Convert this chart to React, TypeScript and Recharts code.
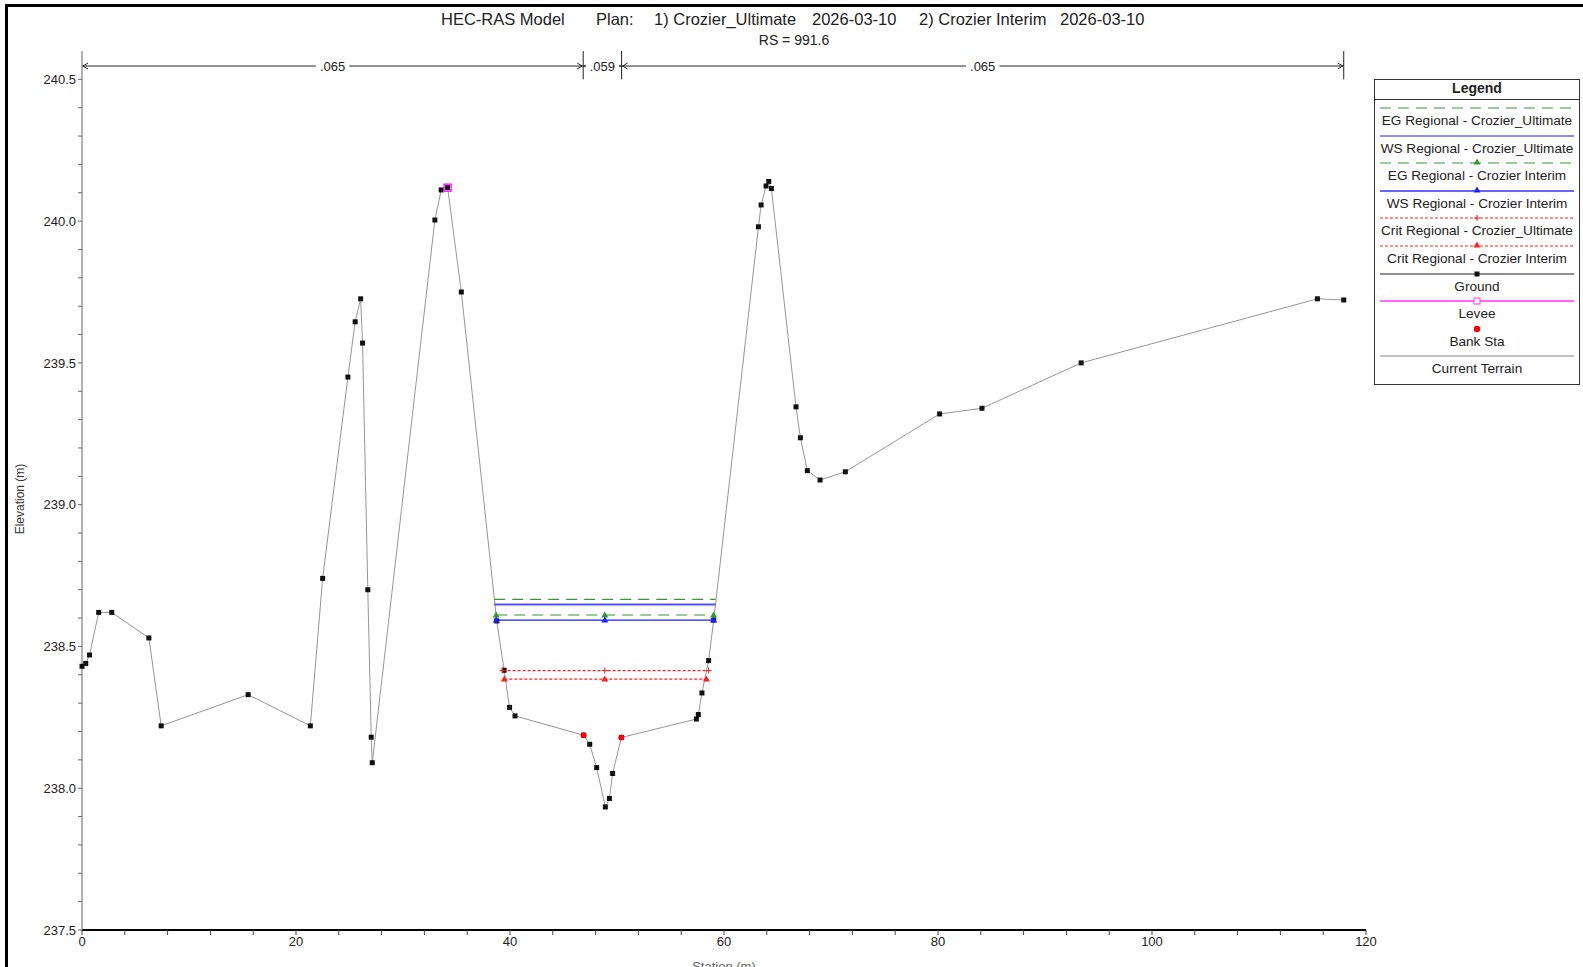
import React from "react";
import {
  ComposedChart,
  Line,
  Scatter,
  XAxis,
  YAxis,
  ReferenceLine,
  ReferenceDot,
} from "recharts";

const FONT = "'Liberation Sans', Arial, sans-serif";

// ground profile (station m, elevation m)
const ground = [
  { x: 0, y: 238.43 },
  { x: 0.35, y: 238.44 },
  { x: 0.7, y: 238.47 },
  { x: 1.56, y: 238.62 },
  { x: 2.78, y: 238.62 },
  { x: 6.25, y: 238.53 },
  { x: 7.4, y: 238.22 },
  { x: 15.53, y: 238.33 },
  { x: 21.34, y: 238.22 },
  { x: 22.49, y: 238.74 },
  { x: 24.85, y: 239.45 },
  { x: 25.53, y: 239.645 },
  { x: 26.04, y: 239.726 },
  { x: 26.22, y: 239.57 },
  { x: 26.71, y: 238.7 },
  { x: 27.03, y: 238.18 },
  { x: 27.13, y: 238.09 },
  { x: 32.98, y: 240.004 },
  { x: 33.57, y: 240.11 },
  { x: 34.17, y: 240.118 },
  { x: 35.45, y: 239.75 },
  { x: 38.76, y: 238.59 },
  { x: 39.45, y: 238.416 },
  { x: 39.96, y: 238.285 },
  { x: 40.47, y: 238.255 },
  { x: 46.88, y: 238.187 },
  { x: 47.45, y: 238.155 },
  { x: 48.1, y: 238.073 },
  { x: 48.91, y: 237.934 },
  { x: 49.29, y: 237.964 },
  { x: 49.59, y: 238.052 },
  { x: 50.41, y: 238.179 },
  { x: 57.42, y: 238.244 },
  { x: 57.6, y: 238.26 },
  { x: 57.94, y: 238.336 },
  { x: 58.56, y: 238.45 },
  { x: 59.04, y: 238.593 },
  { x: 63.22, y: 239.98 },
  { x: 63.47, y: 240.057 },
  { x: 63.93, y: 240.124 },
  { x: 64.18, y: 240.14 },
  { x: 64.43, y: 240.115 },
  { x: 66.73, y: 239.345 },
  { x: 67.14, y: 239.236 },
  { x: 67.79, y: 239.12 },
  { x: 68.98, y: 239.087 },
  { x: 71.34, y: 239.116 },
  { x: 80.15, y: 239.32 },
  { x: 84.11, y: 239.34 },
  { x: 93.38, y: 239.5 },
  { x: 115.46, y: 239.726 },
  { x: 117.92, y: 239.722 },
];

const egUltimate = [
  { x: 38.52, y: 238.666 },
  { x: 59.21, y: 238.666 },
];
const wsUltimate = [
  { x: 38.52, y: 238.648 },
  { x: 59.21, y: 238.648 },
];
const egInterim = [
  { x: 38.71, y: 238.611 },
  { x: 48.86, y: 238.611 },
  { x: 59.02, y: 238.611 },
];
const wsInterim = [
  { x: 38.71, y: 238.593 },
  { x: 48.86, y: 238.593 },
  { x: 59.02, y: 238.593 },
];
const critUltimate = [
  { x: 39.31, y: 238.415 },
  { x: 48.86, y: 238.415 },
  { x: 58.56, y: 238.415 },
];
const critInterim = [
  { x: 39.47, y: 238.385 },
  { x: 48.86, y: 238.385 },
  { x: 58.36, y: 238.385 },
];

const levee = [{ x: 34.17, y: 240.118 }];
const bankSta = [
  { x: 46.88, y: 238.187 },
  { x: 50.41, y: 238.179 },
];

// manning's n regions along the top
const nBreaks = [0, 46.84, 50.43, 117.92];
const nValues = [".065", ".059", ".065"];
const nElev = 240.547;

const xTicks = [
  0, 4, 8, 12, 16, 20, 24, 28, 32, 36, 40, 44, 48, 52, 56, 60, 64, 68, 72, 76,
  80, 84, 88, 92, 96, 100, 104, 108, 112, 116, 120,
];
const yTicks = [
  237.5, 237.6, 237.7, 237.8, 237.9, 238.0, 238.1, 238.2, 238.3, 238.4, 238.5,
  238.6, 238.7, 238.8, 238.9, 239.0, 239.1, 239.2, 239.3, 239.4, 239.5, 239.6,
  239.7, 239.8, 239.9, 240.0, 240.1, 240.2, 240.3, 240.4, 240.5,
];

const titleParts = [
  { text: "HEC-RAS Model", left: 441 },
  { text: "Plan:", left: 596 },
  { text: "1) Crozier_Ultimate", left: 654 },
  { text: "2026-03-10", left: 812 },
  { text: "2) Crozier Interim", left: 919 },
  { text: "2026-03-10", left: 1060 },
];

const GREEN = "#2f9a2f";
const BLUE = "#1c1cff";
const RED = "#ff2020";

function Square({ cx, cy }: any) {
  return <rect x={cx - 2.5} y={cy - 2.5} width={5} height={5} fill="#111" />;
}
function Tri({ cx, cy, color }: any) {
  return (
    <path
      d={`M${cx},${cy - 3.5} L${cx + 3.5},${cy + 2.5} L${cx - 3.5},${cy + 2.5} Z`}
      fill={color}
    />
  );
}
function Plus({ cx, cy, color }: any) {
  return (
    <path
      d={`M${cx - 3},${cy} L${cx + 3},${cy} M${cx},${cy - 3} L${cx},${cy + 3}`}
      stroke={color}
      strokeWidth={1}
    />
  );
}

function NLine(props: any) {
  const { x1, y1, x2, y2 } = props;
  if (x1 == null) return null;
  return (
    <g>
      <line x1={x1} y1={y1} x2={x2} y2={y2} stroke="#222" strokeWidth={1} />
      <path
        d={`M${x1 + 6},${y1 - 3} L${x1 + 1},${y1} L${x1 + 6},${y1 + 3}`}
        stroke="#222"
        fill="none"
      />
      <path
        d={`M${x2 - 6},${y2 - 3} L${x2 - 1},${y2} L${x2 - 6},${y2 + 3}`}
        stroke="#222"
        fill="none"
      />
    </g>
  );
}

function NLabel(text: string) {
  return (props: any) => {
    const { cx, cy } = props;
    const w = text.length * 7.4 + 4;
    return (
      <g>
        <rect x={cx - w / 2} y={cy - 7} width={w} height={14} fill="#fff" />
        <text
          x={cx}
          y={cy + 4.5}
          textAnchor="middle"
          fontSize={13}
          fontFamily={FONT}
          fill="#222"
        >
          {text}
        </text>
      </g>
    );
  };
}

function Swatch({ kind }: { kind: string }) {
  const w = 194;
  const m = w / 2;
  let el: React.ReactNode = null;
  if (kind === "egU")
    el = <line x1={0} y1={4} x2={w} y2={4} stroke={GREEN} strokeDasharray="11 7" />;
  if (kind === "wsU") el = <line x1={0} y1={4} x2={w} y2={4} stroke={BLUE} />;
  if (kind === "egI")
    el = (
      <>
        <line x1={0} y1={4} x2={w} y2={4} stroke={GREEN} strokeDasharray="11 7" />
        <Tri cx={m} cy={3} color={GREEN} />
      </>
    );
  if (kind === "wsI")
    el = (
      <>
        <line x1={0} y1={4} x2={w} y2={4} stroke="#3333ff" strokeWidth={1.5} />
        <Tri cx={m} cy={3} color={BLUE} />
      </>
    );
  if (kind === "crU")
    el = (
      <>
        <line x1={0} y1={4} x2={w} y2={4} stroke={RED} strokeDasharray="3 2" />
        <Plus cx={m} cy={4} color={RED} />
      </>
    );
  if (kind === "crI")
    el = (
      <>
        <line x1={0} y1={4} x2={w} y2={4} stroke={RED} strokeDasharray="3 2" />
        <Tri cx={m} cy={3} color={RED} />
      </>
    );
  if (kind === "gr")
    el = (
      <>
        <line x1={0} y1={4} x2={w} y2={4} stroke="#222" />
        <Square cx={m} cy={4} />
      </>
    );
  if (kind === "lv")
    el = (
      <>
        <line x1={0} y1={4} x2={w} y2={4} stroke="#ff33ff" strokeWidth={1.5} />
        <rect x={m - 3} y={1} width={6} height={6} fill="#fff" stroke="#ff33ff" />
      </>
    );
  if (kind === "bk") el = <circle cx={m} cy={4} r={3.2} fill="#ff0000" />;
  if (kind === "ct") el = <line x1={0} y1={4} x2={w} y2={4} stroke="#888" />;
  return (
    <svg width={w} height={8} style={{ display: "block", margin: "0 auto" }}>
      {el}
    </svg>
  );
}

const legendItems = [
  { kind: "egU", label: "EG Regional - Crozier_Ultimate" },
  { kind: "wsU", label: "WS Regional - Crozier_Ultimate" },
  { kind: "egI", label: "EG Regional - Crozier Interim" },
  { kind: "wsI", label: "WS Regional - Crozier Interim" },
  { kind: "crU", label: "Crit Regional - Crozier_Ultimate" },
  { kind: "crI", label: "Crit Regional - Crozier Interim" },
  { kind: "gr", label: "Ground" },
  { kind: "lv", label: "Levee" },
  { kind: "bk", label: "Bank Sta" },
  { kind: "ct", label: "Current Terrain" },
];

function LegendBox() {
  return (
    <div
      style={{
        position: "absolute",
        left: 1374,
        top: 79,
        width: 206,
        border: "1px solid #333",
        background: "#fff",
        fontFamily: FONT,
        fontSize: 13.6,
        color: "#222",
        textAlign: "center",
        boxSizing: "border-box",
      }}
    >
      <div
        style={{
          fontWeight: "bold",
          fontSize: 14,
          height: 19,
          lineHeight: "17px",
          borderBottom: "1px solid #333",
        }}
      >
        Legend
      </div>
      <div style={{ paddingTop: 4, paddingBottom: 4 }}>
        {legendItems.map((it) => (
          <div key={it.kind} style={{ height: 27.6 }}>
            <Swatch kind={it.kind} />
            <div style={{ lineHeight: "17px", whiteSpace: "nowrap" }}>{it.label}</div>
          </div>
        ))}
      </div>
    </div>
  );
}

export default function App() {
  return (
    <div
      style={{
        position: "fixed",
        left: 0,
        top: 0,
        width: 1583,
        height: 967,
        background: "#fff",
        overflow: "hidden",
      }}
    >
      {/* window frame edge */}
      <div
        style={{
          position: "absolute",
          left: 5,
          top: 4,
          width: 1583,
          height: 970,
          borderLeft: "3px solid #000",
          borderTop: "3px solid #000",
        }}
      />
      {titleParts.map((p, i) => (
        <div
          key={i}
          style={{
            position: "absolute",
            left: p.left,
            top: 10,
            fontFamily: FONT,
            fontSize: 16.5,
            color: "#222",
            whiteSpace: "nowrap",
          }}
        >
          {p.text}
        </div>
      ))}
      <div
        style={{
          position: "absolute",
          left: 0,
          width: 1588,
          top: 32,
          textAlign: "center",
          fontFamily: FONT,
          fontSize: 14,
          color: "#222",
        }}
      >
        RS = 991.6
      </div>

      <div style={{ position: "absolute", left: 0, top: 0 }}>
        <ComposedChart
          width={1583}
          height={967}
          margin={{ top: 51, right: 217, bottom: 7, left: 22 }}
        >
          <XAxis
            type="number"
            dataKey="x"
            domain={[0, 120]}
            ticks={xTicks}
            interval={0}
            height={30}
            tickSize={5}
            tickFormatter={(v: number) => (v % 20 === 0 ? String(v) : "")}
            axisLine={{ stroke: "#000", strokeWidth: 2 }}
            tickLine={{ stroke: "#444" }}
            tick={{ fill: "#222", fontSize: 13, fontFamily: FONT }}
            label={(props: any) => (
              <text
                x={724}
                y={971}
                textAnchor="middle"
                fontSize={13}
                fontFamily={FONT}
                fill="#666"
              >
                Station (m)
              </text>
            )}
          />
          <YAxis
            type="number"
            dataKey="y"
            domain={[237.5, 240.6]}
            allowDataOverflow
            ticks={yTicks}
            interval={0}
            width={60}
            tickSize={4}
            tickFormatter={(v: number) =>
              Math.abs(v * 2 - Math.round(v * 2)) < 1e-6 ? v.toFixed(1) : ""
            }
            axisLine={{ stroke: "#666" }}
            tickLine={{ stroke: "#666" }}
            tick={{ fill: "#222", fontSize: 13, fontFamily: FONT }}
            label={(props: any) => (
              <text
                x={24}
                y={499}
                transform="rotate(-90 24 499)"
                textAnchor="middle"
                fontSize={12}
                fontFamily={FONT}
                fill="#333"
              >
                Elevation (m)
              </text>
            )}
          />

          {/* manning's n segments */}
          {nValues.map((n, i) => (
            <ReferenceLine
              key={"nl" + i}
              segment={[
                { x: nBreaks[i], y: nElev },
                { x: nBreaks[i + 1], y: nElev },
              ]}
              ifOverflow="visible"
              shape={NLine}
            />
          ))}
          {nBreaks.slice(1).map((b, i) => (
            <ReferenceLine
              key={"nb" + i}
              segment={[
                { x: b, y: 240.5 },
                { x: b, y: 240.6 },
              ]}
              stroke="#222"
              ifOverflow="visible"
            />
          ))}
          {nValues.map((n, i) => (
            <ReferenceDot
              key={"nd" + i}
              x={(nBreaks[i] + nBreaks[i + 1]) / 2}
              y={nElev}
              ifOverflow="visible"
              shape={NLabel(n)}
            />
          ))}

          <Line
            data={ground}
            dataKey="y"
            stroke="#969696"
            strokeWidth={1}
            isAnimationActive={false}
            dot={(p: any) => <Square key={"g" + p.index} cx={p.cx} cy={p.cy} />}
            activeDot={false}
          />
          <Line
            data={egUltimate}
            dataKey="y"
            stroke={GREEN}
            strokeWidth={1.2}
            strokeDasharray="11 7"
            dot={false}
            activeDot={false}
            isAnimationActive={false}
          />
          <Line
            data={wsUltimate}
            dataKey="y"
            stroke="#5050ff"
            strokeWidth={2}
            dot={false}
            activeDot={false}
            isAnimationActive={false}
          />
          <Line
            data={egInterim}
            dataKey="y"
            stroke={GREEN}
            strokeWidth={1.2}
            strokeDasharray="11 7"
            dot={(p: any) => (
              <Tri key={"ei" + p.index} cx={p.cx} cy={p.cy} color={GREEN} />
            )}
            activeDot={false}
            isAnimationActive={false}
          />
          <Line
            data={wsInterim}
            dataKey="y"
            stroke={BLUE}
            strokeWidth={1.2}
            dot={(p: any) => (
              <Tri key={"wi" + p.index} cx={p.cx} cy={p.cy} color={BLUE} />
            )}
            activeDot={false}
            isAnimationActive={false}
          />
          <Line
            data={critUltimate}
            dataKey="y"
            stroke={RED}
            strokeWidth={1.2}
            strokeDasharray="3 2"
            dot={(p: any) => (
              <Plus key={"cu" + p.index} cx={p.cx} cy={p.cy} color={RED} />
            )}
            activeDot={false}
            isAnimationActive={false}
          />
          <Line
            data={critInterim}
            dataKey="y"
            stroke={RED}
            strokeWidth={1.2}
            strokeDasharray="3 2"
            dot={(p: any) => (
              <Tri key={"ci" + p.index} cx={p.cx} cy={p.cy} color={RED} />
            )}
            activeDot={false}
            isAnimationActive={false}
          />
          <Scatter
            data={levee}
            isAnimationActive={false}
            shape={(p: any) => (
              <rect
                x={p.cx - 3.5}
                y={p.cy - 3.5}
                width={7}
                height={7}
                fill="none"
                stroke="#ff22ff"
                strokeWidth={1.5}
              />
            )}
          />
          <Scatter
            data={bankSta}
            isAnimationActive={false}
            shape={(p: any) => <circle cx={p.cx} cy={p.cy} r={3} fill="#ff0000" />}
          />
        </ComposedChart>
      </div>
      <LegendBox />
    </div>
  );
}
